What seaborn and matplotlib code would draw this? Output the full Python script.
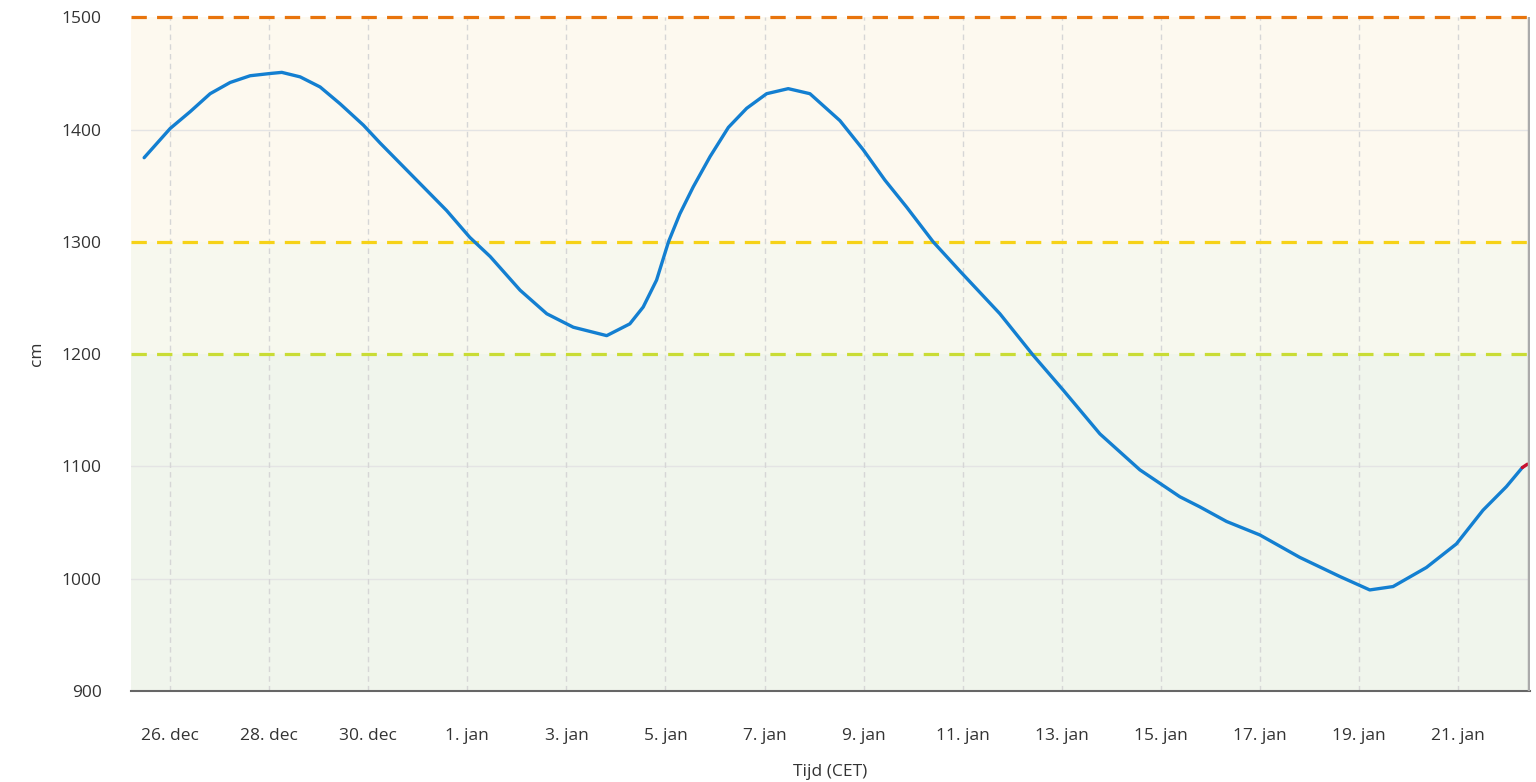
import numpy as np
import pandas as pd
import matplotlib
matplotlib.use("Agg")
import matplotlib.pyplot as plt
import seaborn as sns

# ---- data (days after 26 Dec, water level in cm) ----
day_offsets = [-0.525, 0.0, 0.404, 0.807, 1.211, 1.615, 2.018, 2.254, 2.624, 3.027,
               3.431, 3.901, 4.24, 4.91, 5.58, 6.05, 6.46, 7.064, 7.603,
               8.139, 8.813, 9.28, 9.55, 9.82, 10.06, 10.29, 10.56, 10.90, 11.27,
               11.639, 12.042, 12.478, 12.916, 13.522, 13.993, 14.43, 14.868, 15.405,
               15.944, 16.751, 17.423, 18.029, 18.77, 19.576, 20.384, 20.787, 21.326,
               21.998, 22.805, 23.612, 24.218, 24.688, 25.362, 25.967, 26.504, 26.976,
               27.298]
levels_cm = [1375, 1401, 1416, 1432, 1442, 1448, 1450, 1451, 1447, 1438,
             1423, 1404, 1388, 1358, 1328, 1304, 1287, 1257, 1236,
             1224, 1216.5, 1227, 1242, 1266, 1300, 1325, 1349, 1376, 1402,
             1419, 1432, 1436.5, 1432, 1408, 1382, 1355, 1331, 1300,
             1274, 1236, 1199, 1168, 1129, 1097, 1073, 1064, 1051,
             1039, 1019, 1002, 990, 993, 1010, 1031, 1061, 1082,
             1099]
# last short segment (red)
recent_offsets = [27.298, 27.40]
recent_levels = [1099, 1102]

tick_offsets = [0, 2, 4, 6, 8, 10, 12, 14, 16, 18, 20, 22, 24, 26]
tick_labels = ["26. dec", "28. dec", "30. dec", "1. jan", "3. jan", "5. jan", "7. jan",
               "9. jan", "11. jan", "13. jan", "15. jan", "17. jan", "19. jan", "21. jan"]

threshold_levels = [1500, 1300, 1200]
threshold_colors = ["#e8740c", "#f6d217", "#c9dc35"]
band_edges = [900, 1200, 1300, 1500]
band_colors = ["#f0f5ec", "#f7f8ee", "#fdf9ef"]

start = pd.Timestamp("2024-12-26")
df = pd.DataFrame({"t": start + pd.to_timedelta(day_offsets, unit="D"), "cm": levels_cm})
df_recent = pd.DataFrame({"t": start + pd.to_timedelta(recent_offsets, unit="D"),
                          "cm": recent_levels})

sns.set_theme(style="white")
plt.rcParams["font.family"] = ["Open Sans", "DejaVu Sans"]

fig = plt.figure(figsize=(15.36, 7.82), dpi=100)
ax = fig.add_axes([0.0853, 0.1164, 0.9107, 0.8614])

x0 = start + pd.Timedelta(days=-0.79)
x1 = start + pd.Timedelta(days=27.45)

for lo, hi, c in zip(band_edges[:-1], band_edges[1:], band_colors):
    ax.axhspan(lo, hi, color=c, zorder=0, lw=0)

for yv in [1000, 1100, 1400]:
    ax.axhline(yv, color="#e4e4e4", lw=1, zorder=1)

tick_dates = [start + pd.Timedelta(days=d) for d in tick_offsets]
for td in tick_dates:
    ax.axvline(td, color="#d6d6d6", lw=1, ls=(0, (4, 3)), zorder=1)

for yv, c in zip(threshold_levels, threshold_colors):
    ax.axhline(yv, color=c, lw=2.3, ls=(0, (4.8, 3.2)), zorder=3, clip_on=False)

sns.lineplot(data=df, x="t", y="cm", ax=ax, color="#137fd1", lw=2.4, zorder=4,
             solid_joinstyle="round", solid_capstyle="round")
sns.lineplot(data=df_recent, x="t", y="cm", ax=ax, color="#c8102e", lw=2.4, zorder=5)

ax.axvline(start + pd.Timedelta(days=27.43), color="#aaaaaa", lw=2.5, zorder=6)

ax.set_xlim(x0, x1)
ax.set_ylim(900, 1500)
ax.set_yticks([900, 1000, 1100, 1200, 1300, 1400, 1500])
ax.set_xticks(tick_dates)
ax.set_xticklabels(tick_labels)

for s in ["top", "right", "left"]:
    ax.spines[s].set_visible(False)
ax.spines["bottom"].set_color("#666666")
ax.spines["bottom"].set_linewidth(1.5)
ax.tick_params(axis="x", direction="out", length=11, width=1.5, color="#555555",
               labelsize=12.5, labelcolor="#333333", pad=16)
ax.tick_params(axis="y", length=0, labelsize=12.5, labelcolor="#333333", pad=21)

ax.set_xlabel("Tijd (CET)", fontsize=12.5, color="#333333", labelpad=14)
ax.set_ylabel("cm", fontsize=12.5, color="#333333", labelpad=12)

fig.savefig("out.png", dpi=100)
